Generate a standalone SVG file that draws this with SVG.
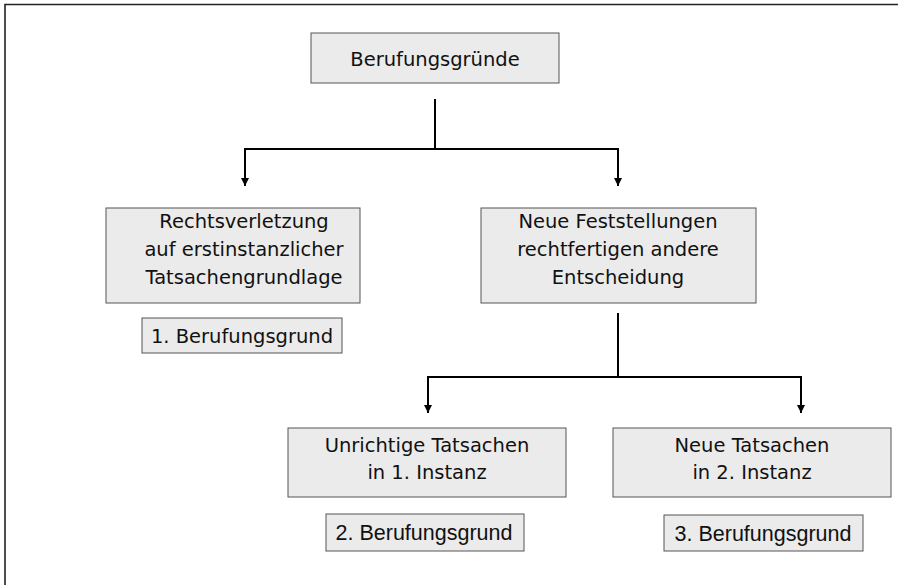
<svg xmlns="http://www.w3.org/2000/svg" width="898" height="585" viewBox="0 0 898 585">
<defs>
<marker id="arr" viewBox="0 0 8 10" refX="8" refY="5" markerWidth="8" markerHeight="10" markerUnits="userSpaceOnUse" orient="auto">
<path d="M0,1 L8,5 L0,9 z" fill="#000"/>
</marker>
<style>
.box{fill:#ebebeb;stroke:#555;stroke-width:1}
.t{font-family:"DejaVu Sans",Verdana,sans-serif;font-size:19.5px;fill:#111;text-anchor:middle}
.a{font-family:"Liberation Sans",Arial,sans-serif;font-size:21.5px;fill:#111;text-anchor:middle}
.c{fill:none;stroke:#000;stroke-width:2}
</style>
</defs>
<rect width="898" height="585" fill="#fff"/>
<path d="M5,585 V4.5 H898" fill="none" stroke="#222" stroke-width="1.6"/>
<g id="connectors">
<line class="c" x1="435" y1="99" x2="435" y2="149"/>
<path class="c" d="M245,186 V149 H618 V186" stroke-linejoin="miter"/>
<path class="c" d="M245,149 V186" marker-end="url(#arr)"/>
<path class="c" d="M618,149 V186" marker-end="url(#arr)"/>
<line class="c" x1="618" y1="313" x2="618" y2="377"/>
<path class="c" d="M428,412 V377 H801 V412"/>
<path class="c" d="M428,377 V413" marker-end="url(#arr)"/>
<path class="c" d="M801,377 V413" marker-end="url(#arr)"/>
</g>
<g id="n-berufungsgruende">
<rect class="box" x="311" y="33" width="248" height="50"/>
<text class="t" x="435" y="66">Berufungsgründe</text>
</g>
<g id="n-rechtsverletzung">
<rect class="box" x="106" y="208" width="254" height="95"/>
<text class="t" x="244" y="228">Rechtsverletzung</text>
<text class="t" x="244" y="256">auf erstinstanzlicher</text>
<text class="t" x="244" y="284">Tatsachengrundlage</text>
</g>
<g id="n-grund1">
<rect class="box" x="142" y="318" width="200" height="35"/>
<text class="t" x="242" y="343">1. Berufungsgrund</text>
</g>
<g id="n-neue-feststellungen">
<rect class="box" x="481" y="208" width="275" height="95"/>
<text class="t" x="618" y="228">Neue Feststellungen</text>
<text class="t" x="618" y="256">rechtfertigen andere</text>
<text class="t" x="618" y="284">Entscheidung</text>
</g>
<g id="n-unrichtige">
<rect class="box" x="288" y="428" width="278" height="69"/>
<text class="t" x="427" y="452">Unrichtige Tatsachen</text>
<text class="t" x="427" y="479">in 1. Instanz</text>
</g>
<g id="n-grund2">
<rect class="box" x="326" y="514" width="198" height="37"/>
<text class="a" x="424" y="540">2. Berufungsgrund</text>
</g>
<g id="n-neue-tatsachen">
<rect class="box" x="613" y="428" width="278" height="69"/>
<text class="t" x="752" y="452">Neue Tatsachen</text>
<text class="t" x="752" y="479">in 2. Instanz</text>
</g>
<g id="n-grund3">
<rect class="box" x="664" y="515" width="199" height="36"/>
<text class="a" x="763" y="541">3. Berufungsgrund</text>
</g>
</svg>
